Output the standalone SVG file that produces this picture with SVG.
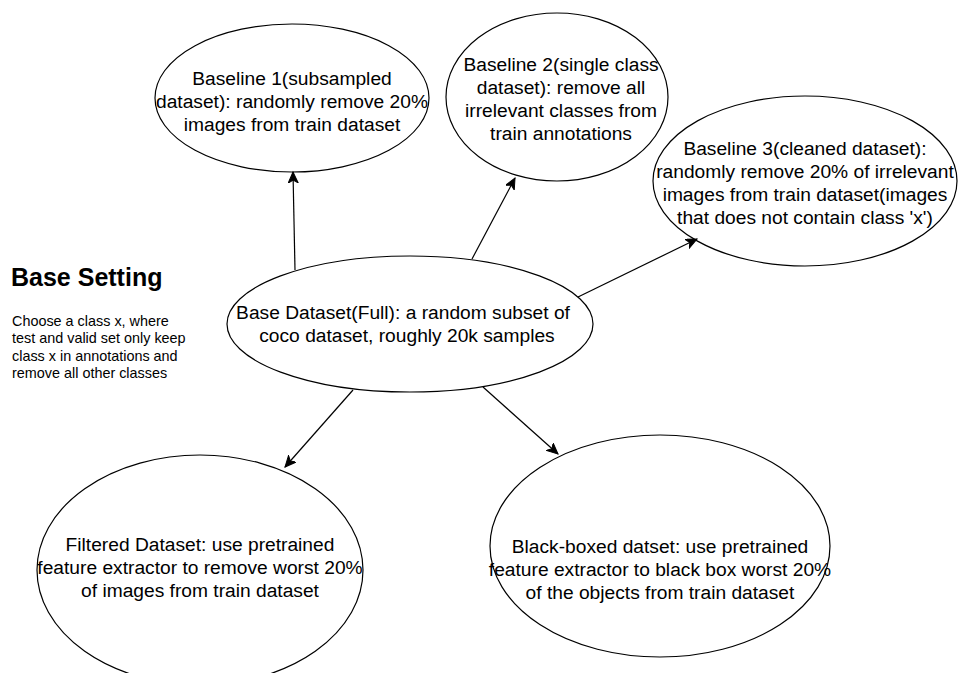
<svg xmlns="http://www.w3.org/2000/svg" width="959" height="673" viewBox="0 0 959 673">
<style>
.n{fill:#ffffff;stroke:#000000;stroke-width:1.2}
.t{font-family:"Liberation Sans",Arial,Helvetica,sans-serif;font-size:19.2px;fill:#000000;text-anchor:middle}
.e{fill:none;stroke:#000000;stroke-width:1.2}
.h{font-family:"Liberation Sans",Arial,Helvetica,sans-serif;font-size:25px;font-weight:bold;fill:#000000}
.s{font-family:"Liberation Sans",Arial,Helvetica,sans-serif;font-size:14.4px;fill:#000000}
</style>
<defs>
<marker id="arr" markerUnits="userSpaceOnUse" markerWidth="14" markerHeight="12" refX="11" refY="5" orient="auto">
<path d="M0,0 L11,5 L0,10 L3,5 Z" fill="#000000" stroke="#000000" stroke-width="1"/>
</marker>
</defs>
<rect width="959" height="673" fill="#ffffff"/>
<g id="base-setting">
<text class="h" x="11" y="286">Base Setting</text>
<text class="s" x="12" y="326">Choose a class x, where</text>
<text class="s" x="12" y="343.3">test and valid set only keep</text>
<text class="s" x="12" y="360.6">class x in annotations and</text>
<text class="s" x="12" y="377.9">remove all other classes</text>
</g>
<g id="baseline1">
<ellipse class="n" cx="292" cy="98" rx="137" ry="74"/>
<text class="t" x="292" y="85">Baseline 1(subsampled</text>
<text class="t" x="292" y="108">dataset): randomly remove 20%</text>
<text class="t" x="292" y="131">images from train dataset</text>
</g>
<g id="baseline2">
<ellipse class="n" cx="557" cy="97" rx="111" ry="84"/>
<text class="t" x="561" y="71">Baseline 2(single class</text>
<text class="t" x="561" y="94">dataset): remove all</text>
<text class="t" x="561" y="117">irrelevant classes from</text>
<text class="t" x="561" y="140">train annotations</text>
</g>
<g id="baseline3">
<ellipse class="n" cx="805" cy="181" rx="152" ry="85"/>
<text class="t" x="805" y="155">Baseline 3(cleaned dataset):</text>
<text class="t" x="805" y="178">randomly remove 20% of irrelevant</text>
<text class="t" x="805" y="201">images from train dataset(images</text>
<text class="t" x="805" y="224">that does not contain class 'x')</text>
</g>
<g id="base">
<ellipse class="n" cx="410" cy="324" rx="183" ry="68"/>
<text class="t" x="403" y="319">Base Dataset(Full): a random subset of</text>
<text class="t" x="407" y="342">coco dataset, roughly 20k samples</text>
</g>
<g id="filtered">
<ellipse class="n" cx="200" cy="570" rx="163" ry="115"/>
<text class="t" x="200" y="551">Filtered Dataset: use pretrained</text>
<text class="t" x="200" y="574">feature extractor to remove worst 20%</text>
<text class="t" x="200" y="597">of images from train dataset</text>
</g>
<g id="blackboxed">
<ellipse class="n" cx="660" cy="546" rx="170" ry="111"/>
<text class="t" x="660" y="553">Black-boxed datset: use pretrained</text>
<text class="t" x="660" y="576">feature extractor to black box worst 20%</text>
<text class="t" x="660" y="599">of the objects from train dataset</text>
</g>
<g id="connectors">
<line class="e" x1="295" y1="270" x2="293" y2="172" marker-end="url(#arr)"/>
<line class="e" x1="472" y1="259" x2="515" y2="178" marker-end="url(#arr)"/>
<line class="e" x1="578" y1="297" x2="697" y2="239" marker-end="url(#arr)"/>
<line class="e" x1="353" y1="390" x2="285" y2="467" marker-end="url(#arr)"/>
<line class="e" x1="483" y1="387" x2="558" y2="454" marker-end="url(#arr)"/>
</g>
</svg>
